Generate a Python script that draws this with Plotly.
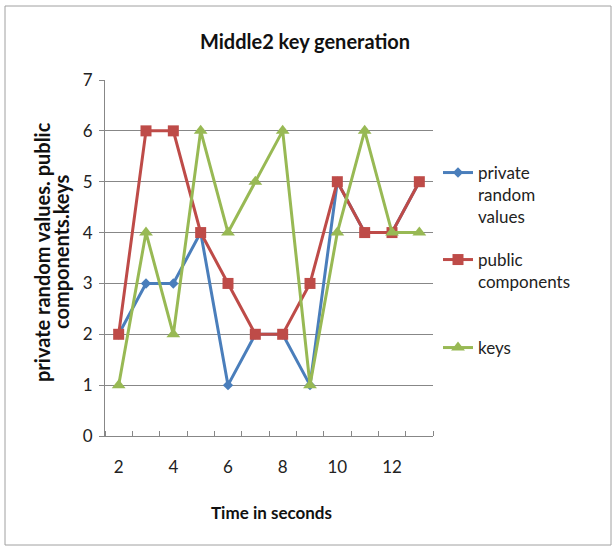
import plotly.graph_objects as go

seconds = [2, 3, 4, 5, 6, 7, 8, 9, 10, 11, 12, 13]
private_random_values = [2, 3, 3, 4, 1, 2, 2, 1, 5, 4, 4, 5]
public_components = [2, 6, 6, 4, 3, 2, 2, 3, 5, 4, 4, 5]
keys = [1, 4, 2, 6, 4, 5, 6, 1, 4, 6, 4, 4]
x_tick_labels = [2, 4, 6, 8, 10, 12]
y_ticks = [0, 1, 2, 3, 4, 5, 6, 7]

FONT = "Lato"
BLUE, RED, GREEN = "#4A7EBB", "#BE4B48", "#98B954"

fig = go.Figure()
fig.add_trace(go.Scatter(x=seconds, y=private_random_values, mode="lines+markers",
                         name="private<br>random<br>values", legend="legend",
                         line=dict(color=BLUE, width=3),
                         marker=dict(symbol="diamond", size=8, color=BLUE)))
fig.add_trace(go.Scatter(x=seconds, y=public_components, mode="lines+markers",
                         name="public<br>components", legend="legend2",
                         line=dict(color=RED, width=3),
                         marker=dict(symbol="square", size=11, color=RED)))
fig.add_trace(go.Scatter(x=seconds, y=keys, mode="lines+markers",
                         name="keys", legend="legend3",
                         line=dict(color=GREEN, width=3),
                         marker=dict(symbol="triangle-up", size=12, color=GREEN)))

L, R, T, B = 105, 433, 80, 436
W, H = 616, 549
pw, ph = R - L, B - T

def px(x):
    return (x - L) / pw

def py(y):
    return (B - y) / ph

def legend_at(y_first_line):
    return dict(x=px(438), y=py(y_first_line - 18), xanchor="left", yanchor="top",
                valign="top", font=dict(family=FONT, size=17, color="#222"),
                bgcolor="rgba(0,0,0,0)", itemwidth=30)

fig.update_layout(
    width=W, height=H,
    margin=dict(l=L, r=W - R, t=T, b=H - B),
    paper_bgcolor="white", plot_bgcolor="white",
    showlegend=True,
    font=dict(family=FONT, size=17, color="#222"),
    title=dict(text="<b>Middle2 key generation</b>", x=305 / W,
               xanchor="center", y=1 - 42 / H, yanchor="middle",
               font=dict(family=FONT, size=20, color="#111")),
    xaxis=dict(range=[1.5, 13.5], tickmode="array", tickvals=x_tick_labels,
               ticktext=[str(v) for v in x_tick_labels], ticks="",
               ticklabelstandoff=16,
               showgrid=False, zeroline=False,
               showline=True, linecolor="#878787", linewidth=1,
               tickfont=dict(family=FONT, size=17, color="#222"),
               minor=dict(tickmode="linear", tick0=1.5, dtick=1, ticks="inside",
                          ticklen=5, tickcolor="#878787", showgrid=False)),
    yaxis=dict(range=[0, 7], tickmode="array", tickvals=y_ticks,
               showgrid=True, gridcolor="#878787", gridwidth=1,
               zeroline=False, showline=True, linecolor="#878787", linewidth=1,
               ticks="outside", ticklen=5, tickcolor="#878787",
               ticklabelstandoff=3,
               tickfont=dict(family=FONT, size=17, color="#222")),
    legend=legend_at(173),
    legend2=legend_at(260),
    legend3=legend_at(348),
    annotations=[
        dict(text="<b>Time in seconds</b>", x=px(271), y=py(512), xref="paper", yref="paper",
             xanchor="center", yanchor="middle",
             showarrow=False, font=dict(family=FONT, size=17, color="#111")),
        dict(text="<b>private random values. public</b>", x=px(42), y=py(252),
             xref="paper", yref="paper", textangle=-90, showarrow=False,
             xanchor="center", yanchor="middle",
             font=dict(family=FONT, size=20, color="#111")),
        dict(text="<b>components.keys</b>", x=px(61), y=py(252),
             xref="paper", yref="paper", textangle=-90, showarrow=False,
             xanchor="center", yanchor="middle",
             font=dict(family=FONT, size=20, color="#111")),
    ],
    shapes=[dict(type="rect", xref="paper", yref="paper",
                 x0=px(5), x1=px(611), y0=py(545), y1=py(6),
                 line=dict(color="#A0A0A0", width=1))],
)
fig.write_html("out.html", config={"displayModeBar": False},
               post_script="document.body.style.margin='0';")
